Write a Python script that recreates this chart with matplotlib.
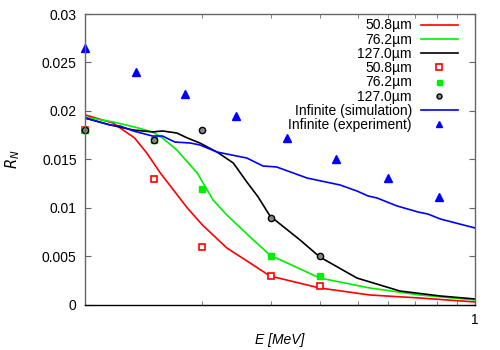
import matplotlib
matplotlib.use("Agg")
import matplotlib.pyplot as plt
from matplotlib.ticker import FixedLocator, NullFormatter

plt.rcParams['font.family'] = ['Liberation Sans', 'DejaVu Sans']

# Simulation curves
e_red = [0.1, 0.118, 0.134, 0.144, 0.156, 0.183, 0.2, 0.231, 0.265, 0.298, 0.4, 0.538, 0.722, 1.0]
r_red = [0.0196, 0.01876, 0.01722, 0.01567, 0.01361, 0.0100, 0.00825, 0.00588, 0.00433, 0.00299,
         0.00175, 0.00103, 0.00072, 0.00031]

e_green = [0.1, 0.118, 0.134, 0.149, 0.158, 0.172, 0.194, 0.213, 0.231, 0.265, 0.298, 0.4, 0.538, 0.722, 1.0]
r_green = [0.01938, 0.01887, 0.01835, 0.01784, 0.01722, 0.01598, 0.01361, 0.01082, 0.00928, 0.00701,
           0.00515, 0.00278, 0.00175, 0.00103, 0.00052]

e_black = [0.1, 0.116, 0.133, 0.149, 0.158, 0.172, 0.183, 0.197, 0.218, 0.240, 0.260, 0.278, 0.298,
           0.356, 0.4, 0.498, 0.642, 0.814, 1.0]
r_black = [0.01928, 0.01856, 0.01804, 0.01784, 0.01794, 0.01773, 0.01722, 0.0167, 0.01577, 0.01464,
           0.01268, 0.01113, 0.00918, 0.0067, 0.00495, 0.00278, 0.00144, 0.00093, 0.00062]

e_blue = [0.1, 0.116, 0.123, 0.133, 0.149, 0.158, 0.170, 0.186, 0.197, 0.218, 0.260, 0.286, 0.310,
          0.371, 0.451, 0.498, 0.532, 0.561, 0.631, 0.714, 0.757, 0.814, 1.0]
r_blue = [0.01928, 0.01856, 0.01845, 0.01794, 0.01742, 0.01742, 0.0168, 0.0167, 0.0165, 0.01577,
          0.01515, 0.01433, 0.01423, 0.01309, 0.01237, 0.01175, 0.01124, 0.01103, 0.01021, 0.00959,
          0.00938, 0.00887, 0.00794]

# Experimental points
e_exp = [0.1, 0.15, 0.2, 0.3, 0.4]
x_red = [0.018, 0.013, 0.006, 0.003, 0.002]
x_green = [0.018, 0.017, 0.012, 0.005, 0.003]
x_black = [0.018, 0.017, 0.018, 0.009, 0.005]

e_inf = [0.1, 0.135, 0.181, 0.244, 0.33, 0.44, 0.6, 0.81]
r_inf = [0.0265, 0.0240, 0.0218, 0.0195, 0.01725, 0.0151, 0.0131, 0.0111]

fig = plt.figure(figsize=(5, 3.5), dpi=100)
ax = fig.add_axes([0.17, 0.1286, 0.78, 0.8314])

lw = 1.2
ax.plot(e_red, r_red, color='#ff0000', lw=lw, label='50.8µm')
ax.plot(e_green, r_green, color='#00ee00', lw=lw, label='76.2µm')
ax.plot(e_black, r_black, color='black', lw=lw, label='127.0µm')
ax.plot(e_exp, x_red, ls='none', marker='s', ms=5, mfc='white', mec='#ff0000', mew=1.2,
        label='50.8µm', clip_on=False)
ax.plot(e_exp, x_green, ls='none', marker='s', ms=4.5, mfc='#00ee00', mec='#00ee00',
        label='76.2µm', clip_on=False)
ax.plot(e_exp, x_black, ls='none', marker='o', ms=4.5, mfc='#888888', mec='black', mew=1.0,
        label='127.0µm', clip_on=False)
ax.plot(e_blue, r_blue, color='#0000ff', lw=lw, label='Infinite (simulation)')
ax.plot(e_inf, r_inf, ls='none', marker='^', ms=6, color='#0000ff',
        label='Infinite (experiment)', clip_on=False)

ax.set_xscale('log')
ax.set_xlim(0.1, 1.0)
ax.set_ylim(0, 0.03)

ax.xaxis.set_major_locator(FixedLocator([1.0]))
ax.set_xticklabels(['1'])
ax.xaxis.set_minor_locator(FixedLocator([0.2, 0.3, 0.4, 0.5, 0.6, 0.7, 0.8, 0.9]))
ax.xaxis.set_minor_formatter(NullFormatter())
yt = [0, 0.005, 0.01, 0.015, 0.02, 0.025, 0.03]
ax.set_yticks(yt)
ax.set_yticklabels(['0', '0.005', '0.01', '0.015', '0.02', '0.025', '0.03'])

ax.tick_params(which='both', direction='in', top=True, right=True, labelsize=10,
               color='#666666', pad=6)
ax.tick_params(which='major', length=4)
ax.tick_params(which='minor', length=3)
for s in ['left', 'right', 'top']:
    ax.spines[s].set_color('#666666')
ax.spines['bottom'].set_color('black')
for s in ax.spines.values():
    s.set_linewidth(1.0)

ax.set_xlabel('E [MeV]', style='italic', fontsize=10, labelpad=4)
ax.set_ylabel('$R_N$', fontsize=10.5, labelpad=14)

leg = ax.legend(loc='upper right', bbox_to_anchor=(0.956, 0.985), frameon=False,
                markerfirst=False, fontsize=10, handlelength=2.66, handletextpad=0.65,
                labelspacing=0.02, borderpad=0, borderaxespad=0, numpoints=1, markerscale=0.8)

fig.savefig('out.png', dpi=100)
